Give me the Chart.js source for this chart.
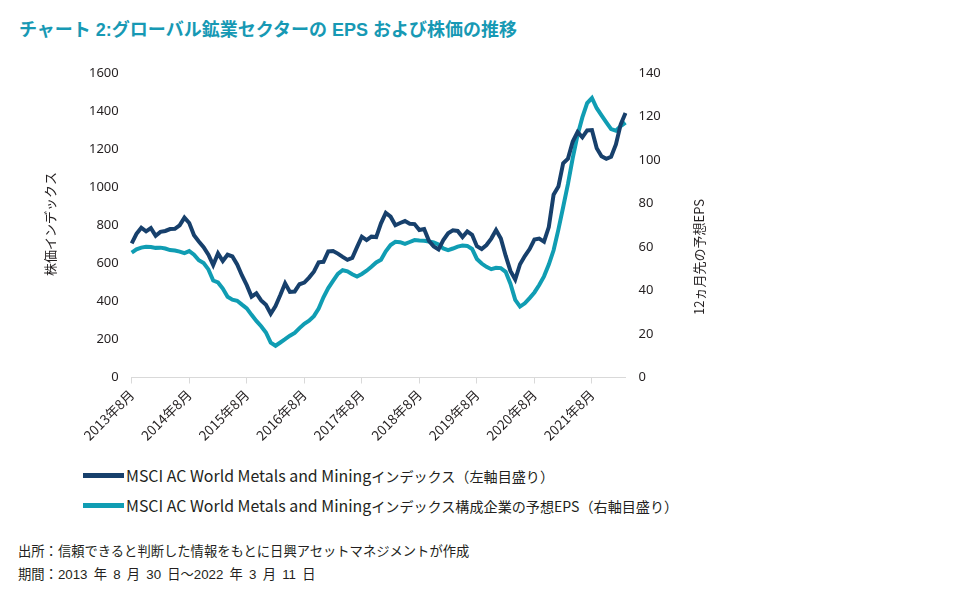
<!DOCTYPE html>
<html lang="ja">
<head>
<meta charset="utf-8">
<script src="https://cdn.jsdelivr.net/npm/chart.js@4.4.1/dist/chart.umd.min.js"></script>
<style>
  body { margin: 0; background: #fff; }
  #wrap { position: relative; width: 962px; height: 590px; overflow: hidden; font-family: "Noto Sans CJK JP", sans-serif; color: #231f20; }
  #title { position: absolute; left: 19px; top: 15px; font-size: 18px; font-weight: bold; color: #1799b4; white-space: nowrap; font-family: "Liberation Sans", "Noto Sans CJK JP", sans-serif; }
  #chartBox { position: absolute; left: 0; top: 0; }
  .legend { position: absolute; left: 83px; font-size: 14.1px; white-space: nowrap; display: flex; align-items: center; }
  .legend .swatch { display: inline-block; width: 41px; height: 5px; margin-right: 2px; }
  .legend .latin { font-size: 15.9px; }
  .note { position: absolute; left: 18px; font-size: 13.3px; white-space: nowrap; font-family: "Liberation Sans", "Noto Sans CJK JP", sans-serif; }
</style>
</head>
<body>
<div id="wrap">
  <div id="title">チャート 2:グローバル鉱業セクターの EPS および株価の推移</div>
  <div id="chartBox"><canvas id="chart" width="962" height="450"></canvas></div>
  <div class="legend" style="top:464px;"><span class="swatch" style="background:#17406c;"></span><span class="latin">MSCI AC World Metals and Mining</span>インデックス（左軸目盛り）</div>
  <div class="legend" style="top:494px;"><span class="swatch" style="background:#109db3;"></span><span class="latin">MSCI AC World Metals and Mining</span>インデックス構成企業の予想EPS（右軸目盛り）</div>
  <div class="note" style="top:541px;">出所：信頼できると判断した情報をもとに日興アセットマネジメントが作成</div>
  <div class="note" style="top:564px; word-spacing: 2.5px;">期間：2013 年 8 月 30 日～2022 年 3 月 11 日</div>
</div>
<script>
// 月次ラベル 2013年8月〜2022年3月
const months = [];
for (let y = 2013, m = 8; y < 2022 || (y === 2022 && m <= 3); m++) {
    if (m > 12) { m = 1; y++; }
    months.push(`${y}年${m}月`);
}

const xTickLabels = ['2013年8月', '2014年8月', '2015年8月', '2016年8月', '2017年8月',
    '2018年8月', '2019年8月', '2020年8月', '2021年8月'];
const leftTicks = [0, 200, 400, 600, 800, 1000, 1200, 1400, 1600];
const rightTicks = [0, 20, 40, 60, 80, 100, 120, 140];

// 株価インデックス（左軸）
const priceIndex = [
    705, 755, 787, 768, 785, 745, 765, 770, 780, 781,
    800, 840, 812, 748, 715, 685, 645, 591, 652, 612,
    645, 636, 594, 536, 485, 425, 442, 405, 382, 335,
    375, 433, 495, 450, 452, 490, 499, 525, 556, 605,
    608, 663, 665, 651, 634, 618, 628, 685, 740, 722,
    740, 738, 810, 865, 845, 800, 812, 822, 808, 806,
    775, 780, 718, 688, 673, 722, 758, 773, 770, 738,
    768, 750, 690, 675, 696, 730, 775, 730, 640, 560,
    515, 595, 638, 675, 725, 730, 714, 790, 960, 1003,
    1126, 1150, 1240, 1290, 1262, 1298, 1300, 1205, 1163, 1149,
    1160, 1225, 1330, 1390
];

// 12ヵ月先の予想EPS（右軸）
const forwardEps = [
    57.4, 58.9, 59.7, 60.1, 60.0, 59.6, 59.7, 59.3, 58.6, 58.4,
    57.9, 57.2, 58.1, 56.5, 53.9, 52.6, 49.7, 44.6, 43.7, 40.9,
    37.1, 35.8, 35.3, 33.5, 31.8, 28.8, 26.0, 23.6, 20.7, 16.0,
    14.6, 16.1, 17.6, 19.2, 20.5, 22.7, 24.7, 26.1, 28.2, 31.7,
    36.9, 41.1, 44.4, 47.6, 49.3, 48.8, 47.5, 46.4, 47.6, 49.1,
    50.9, 52.9, 54.1, 58.0, 60.9, 62.4, 62.2, 61.4, 62.3, 63.2,
    63.0, 62.9, 62.5, 62.1, 61.2, 59.3, 58.6, 59.3, 60.2, 60.7,
    60.5, 59.1, 54.5, 52.4, 50.9, 49.8, 50.4, 50.3, 48.6, 43.1,
    35.7, 32.6, 34.1, 36.5, 39.1, 42.5, 46.5, 51.9, 58.5, 68.0,
    78.4, 89.0, 101.0, 111.4, 119.6, 126.2, 128.5, 123.8, 120.5, 117.3,
    114.2, 113.5, 115.6, 117.2
];

const tickFont = { family: '"Noto Sans", sans-serif', size: 13 };
const textColor = '#231f20';

// 軸タイトル（縦書き回転）
const axisTitles = {
    id: 'axisTitles',
    afterDraw(chart) {
        const ctx = chart.ctx;
        ctx.save();
        ctx.font = '13px "Noto Sans CJK JP"';
        ctx.fillStyle = textColor;
        ctx.textAlign = 'center';
        ctx.textBaseline = 'middle';
        [['株価インデックス', 50, 224], ['12ヵ月先の予想EPS', 699, 257]].forEach(([t, x, y]) => {
            ctx.save();
            ctx.translate(x, y);
            ctx.rotate(-Math.PI / 2);
            ctx.fillText(t, 0, 0);
            ctx.restore();
        });
        ctx.restore();
    }
};

new Chart(document.getElementById('chart'), {
    type: 'line',
    data: {
        labels: months,
        datasets: [
            { label: 'MSCI AC World Metals and Miningインデックス（左軸目盛り）', data: priceIndex, yAxisID: 'y',
              borderColor: '#17406c', borderWidth: 4, pointRadius: 0, tension: 0, fill: false },
            { label: 'MSCI AC World Metals and Miningインデックス構成企業の予想EPS（右軸目盛り）', data: forwardEps, yAxisID: 'y1',
              borderColor: '#109db3', borderWidth: 4, pointRadius: 0, tension: 0, fill: false }
        ]
    },
    options: {
        responsive: false,
        animation: false,
        devicePixelRatio: 1,
        layout: { padding: { top: 73, left: 0, right: 0, bottom: 0 } },
        plugins: { legend: { display: false }, tooltip: { enabled: false } },
        scales: {
            x: {
                ticks: {
                    autoSkip: false, maxRotation: 45, minRotation: 45, padding: 3,
                    font: { family: '"Noto Sans CJK JP", sans-serif', size: 13.5 }, color: textColor,
                    callback(v) {
                        const l = this.getLabelForValue(v);
                        return xTickLabels.includes(l) ? l : null;
                    }
                },
                grid: { drawOnChartArea: false, drawTicks: true, tickLength: 6, color: '#d9d9d9' },
                border: { display: true, color: '#d9d9d9' },
                afterFit(s) { s.height = 450 - 377.5; }
            },
            y: {
                position: 'left', min: 0, max: 1600,
                afterBuildTicks(s) { s.ticks = leftTicks.map(v => ({ value: v })); },
                ticks: { padding: 13, font: tickFont, color: textColor, callback: v => String(v) },
                grid: { display: false, drawTicks: false },
                border: { display: false },
                afterFit(s) { s.width = 131.7; }
            },
            y1: {
                position: 'right', min: 0, max: 140,
                afterBuildTicks(s) { s.ticks = rightTicks.map(v => ({ value: v })); },
                ticks: { padding: 13, font: tickFont, color: textColor, callback: v => String(v) },
                grid: { display: false, drawTicks: false },
                border: { display: false },
                afterFit(s) { s.width = 962 - 625.5; }
            }
        }
    },
    plugins: [axisTitles]
});
</script>
</body>
</html>
